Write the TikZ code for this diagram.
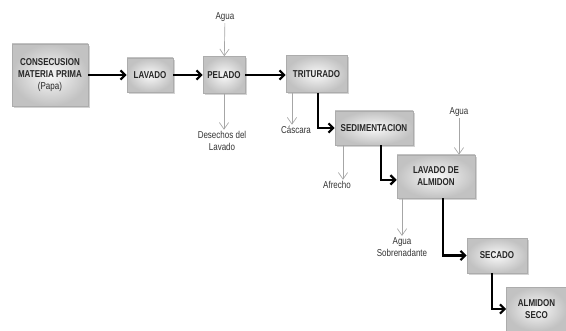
\documentclass[tikz,border=0pt]{standalone}
\usepackage{fontspec}
\newfontfamily\narrowfont{Liberation Sans}[FakeStretch=0.8]
\usepackage{tikz}
\usetikzlibrary{positioning,arrows.meta,shadows}

\begin{document}
\begin{tikzpicture}[x=0.75pt,y=-0.75pt,
  pbox/.style={rectangle,draw=gray!65,shade,inner color=gray!5,outer color=gray!48,
    drop shadow={shadow xshift=1.2pt,shadow yshift=-1.2pt,opacity=0.35},
    font=\narrowfont\fontsize{7.5}{9}\selectfont\bfseries,text=black!85,align=center,inner sep=1pt},
  plab/.style={font=\narrowfont\fontsize{7.5}{9}\selectfont,text=black!80,align=center,inner sep=1pt},
  flow/.style={-{Straight Barb[length=3.5pt,width=7pt]},line width=1.7pt,black},
  side/.style={-{Straight Barb[length=5pt,width=7pt]},gray!70,line width=0.5pt}
]
\useasboundingbox (0,0) rectangle (566,331);
% process boxes
\node[pbox,minimum width=57pt,minimum height=46.5pt] (cons) at (50,75) {CONSECUSION\\MATERIA PRIMA\\{\mdseries(Papa)}};
\node[pbox,minimum width=34.5pt,minimum height=25.5pt] (lav) at (150,75) {LAVADO};
\node[pbox,minimum width=31.5pt,minimum height=27.75pt] (pel) at (224,75) {PELADO};
\node[pbox,minimum width=45.75pt,minimum height=27.75pt] (tri) at (316.5,74) {TRITURADO};
\node[pbox,minimum width=58.5pt,minimum height=25.5pt] (sed) at (374,128) {SEDIMENTACION};
\node[pbox,minimum width=58.5pt,minimum height=32.25pt] (lda) at (436,176.5) {LAVADO DE\\ALMIDON};
\node[pbox,minimum width=45pt,minimum height=26.25pt] (sec) at (497,255.5) {SECADO};
\node[pbox,minimum width=45pt,minimum height=33pt] (ase) at (536.5,309) {ALMIDON\\SECO};
% inputs and outputs
\node[plab] (agua1) at (225,17) {Agua};
\node[plab] (des) at (222,141) {Desechos del\\Lavado};
\node[plab] (casc) at (296,130) {Cáscara};
\node[plab] (afr) at (337,185) {Afrecho};
\node[plab] (agua2) at (459,112) {Agua};
\node[plab] (sobr) at (402,247) {Agua\\Sobrenadante};
% main flow
\draw[flow] (cons) -- (lav);
\draw[flow] (lav) -- (pel);
\draw[flow] (pel.east) -- (pel.east -| tri.west);
\draw[flow] ([xshift=1pt]tri.south) |- (sed.west);
\draw[flow] ([xshift=5.25pt]sed.south) |- ([yshift=-2.5pt]lda.west);
\draw[flow] ([xshift=5.25pt]lda.south) |- (sec.west);
\draw[flow] ([xshift=-3.75pt]sec.south) |- (ase.west);
% side streams
\draw[side] (agua1) -- (pel);
\draw[side] (pel.south) -- (pel.south |- des.north);
\draw[side] ([xshift=-18.4pt]tri.south) -- ([xshift=-18.4pt]tri.south |- casc.north);
\draw[side] ([xshift=-23.25pt]sed.south) -- ([xshift=-23.25pt]sed.south |- afr.north);
\draw[side] (agua2) -- (agua2 |- lda.north);
\draw[side] ([xshift=-25.5pt]lda.south) -- ([xshift=-25.5pt]lda.south |- sobr.north);
\end{tikzpicture}
\end{document}
